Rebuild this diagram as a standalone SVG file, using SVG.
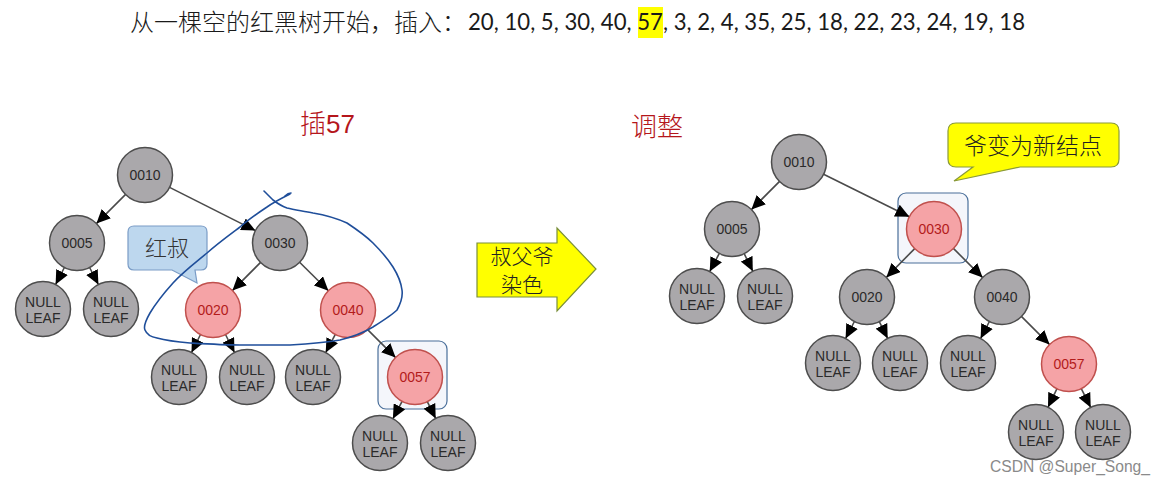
<svg xmlns="http://www.w3.org/2000/svg" width="1166" height="485" viewBox="0 0 1166 485">
<defs>
<marker id="ah" markerUnits="userSpaceOnUse" markerWidth="14" markerHeight="13" refX="14" refY="6.5" orient="auto">
<path d="M0,0 L14,6.5 L0,13 z" fill="#000"/>
</marker>
<style>
.e{stroke:#4a4a4a;stroke-width:1.6;fill:none;marker-end:url(#ah)}
.g{fill:#aaa8ab;stroke:#4d4d4d;stroke-width:1.5}
.r{fill:#f5a3a6;stroke:#c0504d;stroke-width:1.5}
.t{font-family:"Liberation Sans",Arial,sans-serif;font-size:14px;text-anchor:middle;fill:#2a2a2a}
.tr{font-family:"Liberation Sans",Arial,sans-serif;font-size:14px;text-anchor:middle;fill:#b31b1b}
.cn{font-family:"Noto Sans CJK SC",sans-serif}
.hl{fill:#f4f6fb;stroke:#4a6f9a;stroke-width:1.2}
</style>
</defs>
<rect width="1166" height="485" fill="#fff"/>

<g id="title">
<rect x="638" y="7" width="25" height="31" fill="#ffff00"/>
<text x="130" y="31" class="cn" font-size="24" font-weight="300" fill="#1a1a1a" textLength="336" lengthAdjust="spacingAndGlyphs">从一棵空的红黑树开始，插入：</text>
<text x="468" y="30" font-family="Lato,'Liberation Sans',sans-serif" font-size="23" fill="#1a1a1a" textLength="557" lengthAdjust="spacingAndGlyphs">20, 10, 5, 30, 40, 57, 3, 2, 4, 35, 25, 18, 22, 23, 24, 19, 18</text>
</g>

<g id="label-insert"><text x="300" y="133" class="cn" font-size="26" font-weight="300" fill="#b5161b">插<tspan font-family="'Liberation Sans',sans-serif" font-weight="400">57</tspan></text></g>
<g id="label-adjust"><text x="631" y="136" class="cn" font-size="26" font-weight="300" fill="#b5161b">调整</text></g>

<g id="highlights">
<rect class="hl" x="378" y="341" width="69" height="68" rx="8"/>
<rect class="hl" x="898" y="193" width="70" height="70" rx="8"/>
</g>

<g id="connectors">
<line class="e" x1="125.6" y1="194.4" x2="96.4" y2="223.6"/>
<line class="e" x1="169.6" y1="187.4" x2="255.4" y2="230.6"/>
<line class="e" x1="64.4" y1="267.5" x2="55.6" y2="284.5"/>
<line class="e" x1="89.6" y1="267.5" x2="98.4" y2="284.5"/>
<line class="e" x1="260.6" y1="262.4" x2="232.4" y2="290.6"/>
<line class="e" x1="299.6" y1="262.3" x2="328.4" y2="290.7"/>
<line class="e" x1="200.5" y1="334.5" x2="191.5" y2="352.5"/>
<line class="e" x1="225.5" y1="334.5" x2="234.5" y2="352.5"/>
<line class="e" x1="335.3" y1="334.4" x2="325.7" y2="352.6"/>
<line class="e" x1="367.4" y1="329.4" x2="395.6" y2="357.6"/>
<line class="e" x1="402.1" y1="401.3" x2="392.9" y2="418.7"/>
<line class="e" x1="427.3" y1="401.6" x2="435.7" y2="418.4"/>

<line class="e" x1="779.6" y1="181.4" x2="751.4" y2="209.6"/>
<line class="e" x1="823.6" y1="174.2" x2="909.4" y2="216.8"/>
<line class="e" x1="719.3" y1="253.4" x2="709.7" y2="271.6"/>
<line class="e" x1="744.2" y1="253.7" x2="752.8" y2="271.3"/>
<line class="e" x1="914.7" y1="248.6" x2="886.3" y2="277.4"/>
<line class="e" x1="953.4" y1="248.4" x2="982.6" y2="277.6"/>
<line class="e" x1="854.4" y1="321.5" x2="845.6" y2="338.5"/>
<line class="e" x1="879.3" y1="321.6" x2="887.7" y2="338.4"/>
<line class="e" x1="989.4" y1="321.5" x2="980.6" y2="338.5"/>
<line class="e" x1="1021.4" y1="316.4" x2="1049.6" y2="344.6"/>
<line class="e" x1="1057" y1="388.7" x2="1048" y2="407.3"/>
<line class="e" x1="1081.3" y1="388.6" x2="1090.7" y2="407.4"/>
</g>

<!-- left tree nodes -->
<g id="L0010"><circle class="g" cx="145" cy="175" r="27.5"/><text class="t" x="145" y="180">0010</text></g>
<g id="L0005"><circle class="g" cx="77" cy="243" r="27.5"/><text class="t" x="77" y="248">0005</text></g>
<g id="L0030"><circle class="g" cx="280" cy="243" r="27.5"/><text class="t" x="280" y="248">0030</text></g>
<g id="L0020"><circle class="r" cx="213" cy="310" r="27.5"/><text class="tr" x="213" y="315">0020</text></g>
<g id="L0040"><circle class="r" cx="348" cy="310" r="27.5"/><text class="tr" x="348" y="315">0040</text></g>
<g id="L0057"><circle class="r" cx="415" cy="377" r="27.5"/><text class="tr" x="415" y="382">0057</text></g>
<g id="LN1"><circle class="g" cx="43" cy="309" r="27.5"/><text class="t" x="43" y="307">NULL</text><text class="t" x="43" y="323">LEAF</text></g>
<g id="LN2"><circle class="g" cx="111" cy="309" r="27.5"/><text class="t" x="111" y="307">NULL</text><text class="t" x="111" y="323">LEAF</text></g>
<g id="LN3"><circle class="g" cx="179" cy="377" r="27.5"/><text class="t" x="179" y="375">NULL</text><text class="t" x="179" y="391">LEAF</text></g>
<g id="LN4"><circle class="g" cx="247" cy="377" r="27.5"/><text class="t" x="247" y="375">NULL</text><text class="t" x="247" y="391">LEAF</text></g>
<g id="LN5"><circle class="g" cx="313" cy="377" r="27.5"/><text class="t" x="313" y="375">NULL</text><text class="t" x="313" y="391">LEAF</text></g>
<g id="LN6"><circle class="g" cx="380" cy="443" r="27.5"/><text class="t" x="380" y="441">NULL</text><text class="t" x="380" y="457">LEAF</text></g>
<g id="LN7"><circle class="g" cx="448" cy="443" r="27.5"/><text class="t" x="448" y="441">NULL</text><text class="t" x="448" y="457">LEAF</text></g>

<!-- right tree nodes -->
<g id="R0010"><circle class="g" cx="799" cy="162" r="27.5"/><text class="t" x="799" y="167">0010</text></g>
<g id="R0005"><circle class="g" cx="732" cy="229" r="27.5"/><text class="t" x="732" y="234">0005</text></g>
<g id="R0030"><circle class="r" cx="934" cy="229" r="27.5"/><text class="tr" x="934" y="234">0030</text></g>
<g id="R0020"><circle class="g" cx="867" cy="297" r="27.5"/><text class="t" x="867" y="302">0020</text></g>
<g id="R0040"><circle class="g" cx="1002" cy="297" r="27.5"/><text class="t" x="1002" y="302">0040</text></g>
<g id="R0057"><circle class="r" cx="1069" cy="364" r="27.5"/><text class="tr" x="1069" y="369">0057</text></g>
<g id="RN1"><circle class="g" cx="697" cy="296" r="27.5"/><text class="t" x="697" y="294">NULL</text><text class="t" x="697" y="310">LEAF</text></g>
<g id="RN2"><circle class="g" cx="765" cy="296" r="27.5"/><text class="t" x="765" y="294">NULL</text><text class="t" x="765" y="310">LEAF</text></g>
<g id="RN3"><circle class="g" cx="833" cy="363" r="27.5"/><text class="t" x="833" y="361">NULL</text><text class="t" x="833" y="377">LEAF</text></g>
<g id="RN4"><circle class="g" cx="900" cy="363" r="27.5"/><text class="t" x="900" y="361">NULL</text><text class="t" x="900" y="377">LEAF</text></g>
<g id="RN5"><circle class="g" cx="968" cy="363" r="27.5"/><text class="t" x="968" y="361">NULL</text><text class="t" x="968" y="377">LEAF</text></g>
<g id="RN6"><circle class="g" cx="1036" cy="432" r="27.5"/><text class="t" x="1036" y="430">NULL</text><text class="t" x="1036" y="446">LEAF</text></g>
<g id="RN7"><circle class="g" cx="1103" cy="432" r="27.5"/><text class="t" x="1103" y="430">NULL</text><text class="t" x="1103" y="446">LEAF</text></g>

<g id="callout-uncle">
<path d="M134,226 H201 Q207,226 207,232 V264 Q207,270 201,270 H195 L197,283 L172,270 H134 Q128,270 128,264 V232 Q128,226 134,226 Z" fill="#bdd7ee" stroke="#7a9cc6" stroke-width="1.2"/>
<text x="167" y="256" class="cn" font-size="22" font-weight="300" fill="#333" text-anchor="middle">红叔</text>
</g>

<g id="arrow-recolor">
<polygon points="477,243 557,243 557,228 596,269 557,311 557,297 477,297" fill="#ffff00" stroke="#7a8f3a" stroke-width="1.2"/>
<text x="522" y="264" class="cn" font-size="21" font-weight="300" fill="#222" text-anchor="middle">叔父爷</text>
<text x="522" y="292" class="cn" font-size="21" font-weight="300" fill="#222" text-anchor="middle">染色</text>
</g>

<g id="callout-grandpa">
<path d="M956,123 H1111 Q1119,123 1119,131 V159 Q1119,167 1111,167 H1020 L954,181 L973,167 H956 Q948,167 948,159 V131 Q948,123 956,123 Z" fill="#ffff00" stroke="#8a9a3a" stroke-width="1.2"/>
<text x="1033" y="154" class="cn" font-size="23" font-weight="300" fill="#222" text-anchor="middle">爷变为新结点</text>
</g>

<g id="hand-drawn" fill="none" stroke="#1f4e9a" stroke-width="1.6" stroke-linecap="round">
<path d="M290,194 C282,198 274,202 267,207 C258,213 248,220 240,227 C228,236 217,244 207,253 C195,263 183,272 173,283 C164,293 156,303 150,313 C146,320 143,326 145,330 C147,335 151,337 157,338 C168,341 178,342 190,343 C207,344 223,345 240,345 C257,345 273,345 290,345 C307,344 323,343 340,340 C352,337 363,333 373,327 C384,320 392,315 397,310 C401,303 403,297 402,290 C401,282 398,275 393,267 C388,259 381,251 373,243 C365,235 356,229 347,223 C336,218 325,215 313,213 C304,211 295,210 287,208 C281,206 277,203 273,200 C270,197 267,194 264,191"/>
<path d="M285,196 C287,194 289,193 291,193"/>
</g>

<g id="watermark"><text x="990" y="472" font-family="'Liberation Sans',sans-serif" font-size="16" fill="#8a8a8a" textLength="160" lengthAdjust="spacingAndGlyphs">CSDN @Super_Song_</text></g>
</svg>
